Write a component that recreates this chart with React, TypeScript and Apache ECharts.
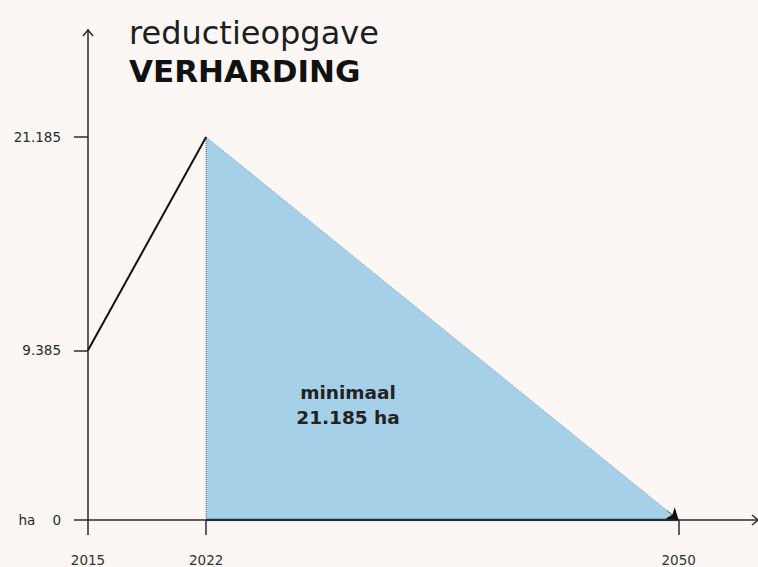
import React, { useEffect, useRef } from "react";
import * as echarts from "echarts";

const growthYears = [2015, 2022];
const growthValues = [9385, 21185];
const reductionYears = [2022, 2050];
const reductionValues = [21185, 0];
const yTickValues = [0, 9385, 21185];
const xTickValues = [2015, 2022, 2050];
const titleLine1 = "reductieopgave";
const titleLine2 = "VERHARDING";
const areaLabel = ["minimaal", "21.185 ha"];

const fmtNL = (v: number) => {
  const s = String(Math.round(v));
  return s.replace(/\B(?=(\d{3})+(?!\d))/g, ".");
};

export default function App() {
  const ref = useRef<HTMLDivElement>(null);
  useEffect(() => {
    if (!ref.current) return;
    const chart = echarts.init(ref.current, null, { renderer: "svg" });
    const axisColor = "#2b2b2b";
    const font = "DejaVu Sans";
    const growth = growthYears.map((y, i) => [y, growthValues[i]]);
    const reduction = reductionYears.map((y, i) => [y, reductionValues[i]]);
    // a short point near the end of the diagonal, for the black arrowhead
    const t = 0.975;
    const nearEnd = [
      reduction[0][0] + (reduction[1][0] - reduction[0][0]) * t,
      reduction[0][1] + (reduction[1][1] - reduction[0][1]) * t,
    ];
    chart.setOption({
      animation: false,
      backgroundColor: "#fcf7f4",
      grid: { left: 88, right: 0, top: 30, bottom: 47 },
      xAxis: {
        type: "value",
        min: 2015,
        max: 2054.7,
        splitLine: { show: false },
        axisLine: { show: true, lineStyle: { color: axisColor, width: 1.5 } },
        axisTick: {
          show: true,
          customValues: xTickValues,
          inside: false,
          length: 15,
          lineStyle: { color: axisColor, width: 1.5 },
        },
        axisLabel: {
          customValues: xTickValues,
          margin: 33,
          fontFamily: font,
          fontSize: 13.5,
          color: "#333",
          formatter: (v: number) => String(v),
        },
      },
      yAxis: {
        type: "value",
        min: 0,
        max: 27100,
        splitLine: { show: false },
        axisLine: { show: true, lineStyle: { color: axisColor, width: 1.5 } },
        axisTick: {
          show: true,
          customValues: yTickValues,
          length: 14,
          lineStyle: { color: axisColor, width: 1.5 },
        },
        axisLabel: {
          customValues: yTickValues,
          margin: 27,
          fontFamily: font,
          fontSize: 13.5,
          color: "#2a2a2a",
          formatter: (v: number) => (v === 0 ? "ha    0" : fmtNL(v)),
        },
      },
      series: [
        {
          type: "line",
          data: reduction,
          symbol: "none",
          lineStyle: { width: 0 },
          areaStyle: { color: "#a6d0e8", opacity: 1 },
          markLine: {
            silent: true,
            symbol: ["none", "none"],
            label: { show: false },
            lineStyle: { color: "#8aa9bc", type: "dotted", width: 1 },
            data: [[{ coord: reduction[0] }, { coord: reduction[1] }]],
          },
          z: 2,
        },
        {
          type: "line",
          data: [
            [reductionYears[0], 0],
            [reductionYears[0], reductionValues[0]],
          ],
          symbol: "none",
          lineStyle: { color: "#555", type: "dotted", width: 1 },
          z: 3,
        },
        {
          type: "line",
          data: [
            [reductionYears[0], 0],
            [reductionYears[1], 0],
          ],
          symbol: "none",
          lineStyle: { color: "#1f2f3d", width: 2.5 },
          z: 4,
        },
        {
          type: "line",
          data: growth,
          symbol: "none",
          lineStyle: { color: "#111", width: 2 },
          markLine: {
            silent: true,
            symbol: ["none", "arrow"],
            symbolSize: 11,
            label: { show: false },
            lineStyle: { color: "#111", type: "solid", width: 0.5, opacity: 1 },
            data: [[{ coord: nearEnd }, { coord: reduction[1] }]],
          },
          z: 5,
        },
      ],
      graphic: [
        {
          type: "polyline",
          z: 100,
          shape: { points: [[83, 36], [88, 30], [93, 36]] },
          style: { stroke: axisColor, lineWidth: 1.5, fill: null },
        },
        {
          type: "polyline",
          z: 100,
          shape: { points: [[752, 515], [758, 520], [752, 525]] },
          style: { stroke: axisColor, lineWidth: 1.5, fill: null },
        },
        {
          type: "text",
          z: 100,
          x: 129,
          y: 33,
          style: {
            text: titleLine1,
            font: `normal 32px ${font}`,
            fill: "#1e1e1e",
            verticalAlign: "middle",
          },
        },
        {
          type: "text",
          z: 100,
          x: 129,
          y: 71,
          style: {
            text: titleLine2,
            font: `bold 31px ${font}`,
            fill: "#111",
            verticalAlign: "middle",
          },
        },
        {
          type: "text",
          z: 100,
          x: 348,
          y: 405,
          style: {
            text: areaLabel.join("\n"),
            font: `bold 18.5px ${font}`,
            fill: "#222",
            align: "center",
            verticalAlign: "middle",
            lineHeight: 25,
          },
        },
      ],
    });
    return () => chart.dispose();
  }, []);
  return (
    <div
      ref={ref}
      style={{ position: "fixed", left: 0, top: 0, width: 758, height: 567 }}
    />
  );
}
